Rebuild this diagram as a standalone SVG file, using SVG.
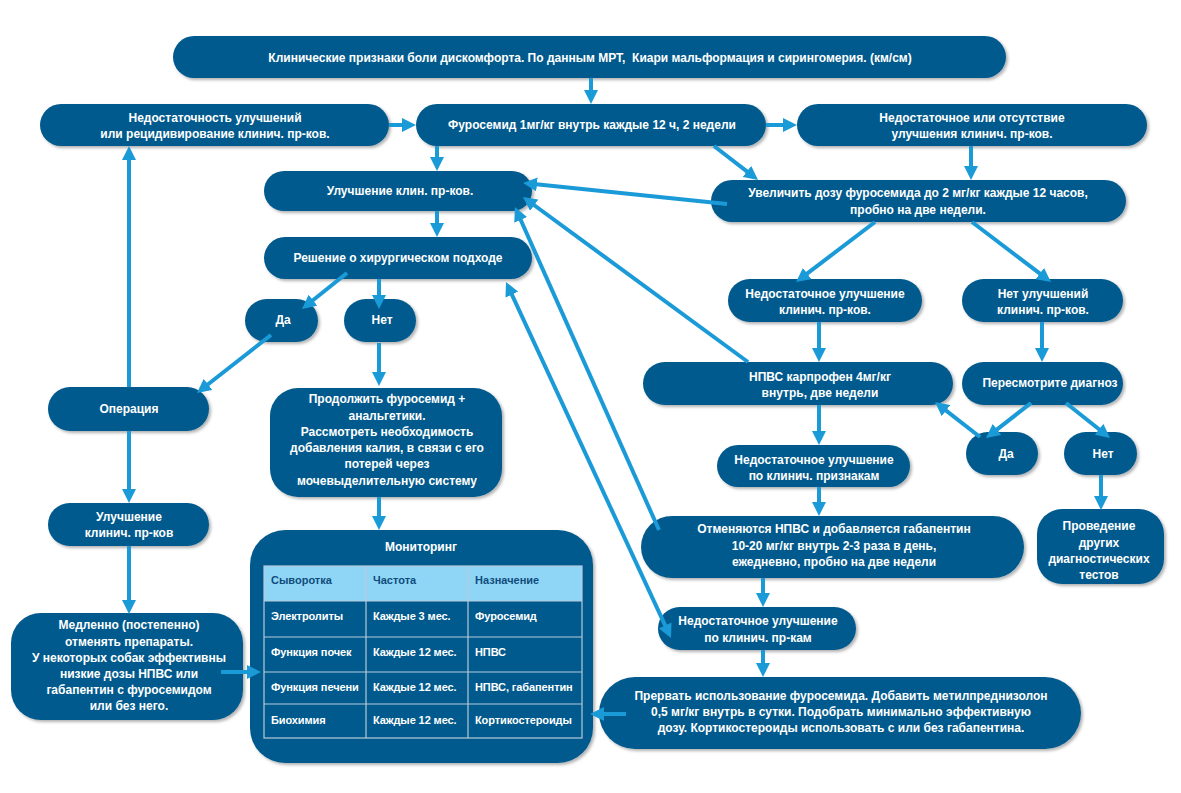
<svg xmlns="http://www.w3.org/2000/svg" width="1181" height="793" viewBox="0 0 1181 793">
<defs>
<style>
.box{fill:#045a8d;filter:url(#sh);}
.t{font-family:"Liberation Sans",Arial,sans-serif;font-weight:bold;font-size:12px;fill:#ffffff;text-anchor:middle;}
.tl{font-family:"Liberation Sans",Arial,sans-serif;font-weight:bold;font-size:11px;fill:#ffffff;letter-spacing:-0.1px;}
.th{font-family:"Liberation Sans",Arial,sans-serif;font-weight:bold;font-size:11px;fill:#0f4c7c;}
.c{stroke:#1b9ad8;stroke-width:4;fill:none;marker-end:url(#ah);}
.grid{stroke:#b8cadb;stroke-width:1.2;fill:none;}
</style>
<filter id="sh" x="-10%" y="-20%" width="120%" height="150%">
<feDropShadow dx="2" dy="2" stdDeviation="1.5" flood-color="#000" flood-opacity="0.3"/>
</filter>
<marker id="ah" viewBox="0 0 14 14" refX="8" refY="7" markerWidth="14" markerHeight="14" markerUnits="userSpaceOnUse" orient="auto-start-reverse">
<path d="M0,0 L14,7 L0,14 z" fill="#1b9ad8"/>
</marker>
</defs>
<rect width="1181" height="793" fill="#ffffff"/>

<g id="n-top"><rect class="box" x="173" y="36" width="833" height="42" rx="21"/>
<text class="t" x="590" y="62">Клинические признаки боли дискомфорта. По данным МРТ,&#160; Киари мальформация и сирингомерия. (км/см)</text></g>

<g id="n-a"><rect class="box" x="40" y="104" width="349" height="42" rx="21"/>
<text class="t" x="215" y="122">Недостаточность улучшений</text><text class="t" x="215" y="138">или рецидивирование клинич. пр-ков.</text></g>

<g id="n-b"><rect class="box" x="416" y="104" width="350" height="42" rx="21"/>
<text class="t" x="592" y="129">Фуросемид 1мг/кг внутрь каждые 12 ч, 2 недели</text></g>

<g id="n-c"><rect class="box" x="797" y="104" width="350" height="42" rx="21"/>
<text class="t" x="972" y="122">Недостаточное или отсутствие</text><text class="t" x="972" y="138">улучшения клинич. пр-ков.</text></g>

<g id="n-d"><rect class="box" x="264" y="171" width="268" height="40" rx="20"/>
<text class="t" x="400" y="195">Улучшение клин. пр-ков.</text></g>

<g id="n-e"><rect class="box" x="711" y="180" width="415" height="42" rx="21"/>
<text class="t" x="918" y="197">Увеличить дозу фуросемида до 2 мг/кг каждые 12 часов,</text><text class="t" x="918" y="214">пробно на две недели.</text></g>

<g id="n-f"><rect class="box" x="264" y="237" width="268" height="42" rx="21"/>
<text class="t" x="398" y="262">Решение о хирургическом подходе</text></g>

<g id="n-g"><rect class="box" x="245" y="299" width="73" height="43" rx="21.5"/>
<text class="t" x="283" y="324">Да</text></g>

<g id="n-h"><rect class="box" x="344" y="299" width="72" height="43" rx="21.5"/>
<text class="t" x="382" y="324">Нет</text></g>

<g id="n-i"><rect class="box" x="48" y="387" width="161" height="44" rx="22"/>
<text class="t" x="129" y="413">Операция</text></g>

<g id="n-j"><rect class="box" x="270" y="388" width="232" height="109" rx="28"/>
<text class="t" x="387" y="403">Продолжить фуросемид +</text>
<text class="t" x="387" y="420">анальгетики.</text>
<text class="t" x="387" y="436">Рассмотреть необходимость</text>
<text class="t" x="387" y="452">добавления калия, в связи с его</text>
<text class="t" x="387" y="468">потерей через</text>
<text class="t" x="387" y="485">мочевыделительную систему</text></g>

<g id="n-k"><rect class="box" x="48" y="503" width="161" height="43" rx="21.5"/>
<text class="t" x="129" y="521">Улучшение</text><text class="t" x="129" y="537">клинич. пр-ков</text></g>

<g id="n-l"><rect class="box" x="11" y="613" width="232" height="107" rx="30"/>
<text class="t" x="129" y="629">Медленно (постепенно)</text>
<text class="t" x="129" y="646">отменять препараты.</text>
<text class="t" x="129" y="662">У некоторых собак эффективны</text>
<text class="t" x="129" y="678">низкие дозы НПВС или</text>
<text class="t" x="129" y="694">габапентин с фуросемидом</text>
<text class="t" x="129" y="710">или без него.</text></g>

<g id="n-m"><rect class="box" x="250" y="530" width="343" height="233" rx="35"/>
<text class="t" x="421" y="551">Мониторинг</text>
<rect x="264" y="566" width="318" height="35" fill="#8fd6f6"/>
<rect class="grid" x="264" y="566" width="318" height="172"/>
<line class="grid" x1="264" y1="601" x2="582" y2="601"/>
<line class="grid" x1="264" y1="637" x2="582" y2="637"/>
<line class="grid" x1="264" y1="672" x2="582" y2="672"/>
<line class="grid" x1="264" y1="704" x2="582" y2="704"/>
<line class="grid" x1="366" y1="566" x2="366" y2="738"/>
<line class="grid" x1="468" y1="566" x2="468" y2="738"/>
<text class="th" x="271" y="584">Сыворотка</text>
<text class="th" x="373" y="584">Частота</text>
<text class="th" x="475" y="584">Назначение</text>
<text class="tl" x="271" y="620">Электролиты</text>
<text class="tl" x="373" y="620">Каждые 3 мес.</text>
<text class="tl" x="475" y="620">Фуросемид</text>
<text class="tl" x="271" y="656">Функция почек</text>
<text class="tl" x="373" y="656">Каждые 12 мес.</text>
<text class="tl" x="475" y="656">НПВС</text>
<text class="tl" x="271" y="691">Функция печени</text>
<text class="tl" x="373" y="691">Каждые 12 мес.</text>
<text class="tl" x="475" y="691">НПВС, габапентин</text>
<text class="tl" x="271" y="724">Биохимия</text>
<text class="tl" x="373" y="724">Каждые 12 мес.</text>
<text class="tl" x="475" y="724">Кортикостероиды</text></g>

<g id="n-n"><rect class="box" x="728" y="279" width="194" height="43" rx="21.5"/>
<text class="t" x="825" y="298">Недостаточное улучшение</text><text class="t" x="825" y="314">клинич. пр-ков.</text></g>

<g id="n-o"><rect class="box" x="962" y="279" width="161" height="43" rx="21.5"/>
<text class="t" x="1043" y="298">Нет улучшений</text><text class="t" x="1043" y="314">клинич. пр-ков.</text></g>

<g id="n-p"><rect class="box" x="643" y="362" width="310" height="43" rx="21.5"/>
<text class="t" x="820" y="381">НПВС карпрофен 4мг/кг</text><text class="t" x="820" y="397">внутрь, две недели</text></g>

<g id="n-q"><rect class="box" x="962" y="362" width="161" height="43" rx="21.5"/>
<text class="t" x="1050" y="387">Пересмотрите диагноз</text></g>

<g id="n-r"><rect class="box" x="966" y="432" width="72" height="43" rx="21.5"/>
<text class="t" x="1006" y="458">Да</text></g>

<g id="n-s"><rect class="box" x="1064" y="432" width="73" height="43" rx="21.5"/>
<text class="t" x="1103" y="458">Нет</text></g>

<g id="n-t"><rect class="box" x="717" y="445" width="193" height="42" rx="21"/>
<text class="t" x="814" y="464">Недостаточное улучшение</text><text class="t" x="814" y="480">по клинич. признакам</text></g>

<g id="n-u"><rect class="box" x="1037" y="509" width="127" height="75" rx="25"/>
<text class="t" x="1099" y="530">Проведение</text>
<text class="t" x="1099" y="547">других</text>
<text class="t" x="1099" y="563">диагностических</text>
<text class="t" x="1099" y="579">тестов</text></g>

<g id="n-v"><rect class="box" x="641" y="516" width="383" height="62" rx="31"/>
<text class="t" x="834" y="533">Отменяются НПВС и добавляется габапентин</text>
<text class="t" x="834" y="550">10-20 мг/кг внутрь 2-3 раза в день,</text>
<text class="t" x="834" y="566">ежедневно, пробно на две недели</text></g>

<g id="n-w"><rect class="box" x="658" y="607" width="198" height="43" rx="21.5"/>
<text class="t" x="758" y="625">Недостаточное улучшение</text><text class="t" x="758" y="642">по клинич. пр-кам</text></g>

<g id="n-x"><rect class="box" x="599" y="677" width="482" height="72" rx="36"/>
<text class="t" x="841" y="700">Прервать использование фуросемида. Добавить метилпреднизолон</text>
<text class="t" x="841" y="716">0,5 мг/кг внутрь в сутки. Подобрать минимально эффективную</text>
<text class="t" x="841" y="732">дозу. Кортикостероиды использовать с или без габапентина.</text></g>

<g id="connectors">
<line class="c" x1="591" y1="78" x2="591" y2="98"/>
<line class="c" x1="389" y1="125" x2="410" y2="125"/>
<line class="c" x1="766" y1="125" x2="791" y2="125"/>
<line class="c" x1="437" y1="146" x2="437" y2="165"/>
<line class="c" x1="714" y1="146" x2="753.3" y2="176.3"/>
<line class="c" x1="971" y1="146" x2="971" y2="174"/>
<line class="c" x1="727" y1="204" x2="529" y2="183.6"/>
<line class="c" x1="748" y1="362" x2="527.8" y2="200.5"/>
<line class="c" x1="659" y1="530" x2="517.4" y2="212.5"/>
<line class="c" x1="437" y1="211" x2="437" y2="231"/>
<line class="c" x1="347" y1="273" x2="306.7" y2="305.2"/>
<line class="c" x1="379" y1="279" x2="379" y2="303"/>
<line class="c" x1="271" y1="335" x2="201.7" y2="389.3"/>
<line class="c" x1="129" y1="387" x2="129" y2="152"/>
<line class="c" x1="379" y1="343" x2="379" y2="380"/>
<line class="c" x1="129" y1="431" x2="129" y2="497"/>
<line class="c" x1="129" y1="546" x2="129" y2="608"/>
<line class="c" x1="221" y1="672" x2="255" y2="672"/>
<line class="c" x1="379" y1="497" x2="379" y2="524"/>
<line class="c" x1="875" y1="222" x2="800.8" y2="278.4"/>
<line class="c" x1="972" y1="222" x2="1046.2" y2="278.4"/>
<line class="c" x1="819" y1="322" x2="819" y2="356"/>
<line class="c" x1="1042" y1="322" x2="1042" y2="356"/>
<line class="c" x1="1031" y1="403" x2="990.7" y2="434.3"/>
<line class="c" x1="1066" y1="403" x2="1105.3" y2="434.3"/>
<line class="c" x1="980" y1="437" x2="939.7" y2="405.7"/>
<line class="c" x1="819" y1="405" x2="819" y2="439"/>
<line class="c" x1="1101" y1="475" x2="1101" y2="504"/>
<line class="c" x1="819" y1="487" x2="819" y2="510"/>
<line class="c" x1="763" y1="578" x2="763" y2="601"/>
<line class="c" x1="763" y1="650" x2="763" y2="671"/>
<line class="c" x1="626" y1="714" x2="596" y2="714"/>
<line class="c" x1="508.5" y1="287.4" x2="668.5" y2="632.6" style="marker-start:url(#ah)"/>
</g>
</svg>
